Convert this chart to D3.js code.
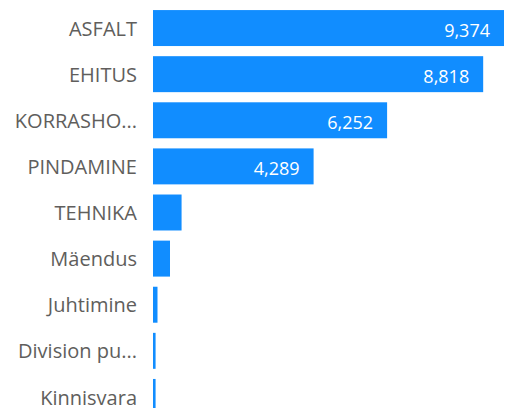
<!DOCTYPE html>
<html>
<head>
<meta charset="utf-8">
<script src="https://cdn.jsdelivr.net/npm/d3@7"></script>
<style>
  body { margin: 0; background: #fff; }
  svg, svg text { font-family: "Open Sans", "Noto Sans", sans-serif; }
  svg { display: block; }
</style>
</head>
<body>
<div class="chart"></div>
<script>
// categories as displayed (truncated labels kept as shown)
var categories = ["ASFALT", "EHITUS", "KORRASHO...", "PINDAMINE", "TEHNIKA", "Mäendus", "Juhtimine", "Division pu...", "Kinnisvara"];
var values = [9374, 8818, 6252, 4289, 763, 454, 120, 69, 69];
var shownLabels = [true, true, true, true, false, false, false, false, false];

var width = 506, height = 408;
var margin = {left: 153, right: 2};

var svg = d3.select(".chart")
  .append("svg")
    .attr("width", width)
    .attr("height", height);

var data = categories.map(function(c, i) {
  return {cat: c, val: values[i], show: shownLabels[i]};
});

// y axis - band scale
var y = d3.scaleBand()
  .domain(categories)
  .range([5, 420])
  .paddingInner(0.22)
  .paddingOuter(0.11);

// x axis
var x = d3.scaleLinear()
  .domain([0, d3.max(values)])
  .range([margin.left, width - margin.right]);

// category labels
svg.append("g")
  .attr("transform", "translate(" + (margin.left - 16) + ",0)")
  .call(d3.axisLeft(y).tickSize(0).tickPadding(0))
  .attr("font-family", null)
  .attr("font-size", null)
  .call(function(g) { g.select(".domain").remove(); })
  .selectAll("text")
    .attr("fill", "#605E5C")
    .attr("dy", "0.38em")
    .style("font-size", "20px");

// bars
svg.selectAll("mybar")
  .data(data)
  .enter()
  .append("rect")
    .attr("x", x(0))
    .attr("y", function(d) { return y(d.cat); })
    .attr("width", function(d) { return x(d.val) - x(0); })
    .attr("height", y.bandwidth())
    .attr("fill", "#118DFF");

// data labels inside the bar end
svg.selectAll("vallabel")
  .data(data.filter(function(d) { return d.show; }))
  .enter()
  .append("text")
    .attr("x", function(d) { return x(d.val) - 14; })
    .attr("y", function(d) { return y(d.cat) + y.bandwidth() / 2; })
    .attr("dy", "0.5em")
    .attr("text-anchor", "end")
    .attr("fill", "#fff")
    .style("font-size", "18px")
    .text(function(d) { return d3.format(",")(d.val); });
</script>
</body>
</html>
